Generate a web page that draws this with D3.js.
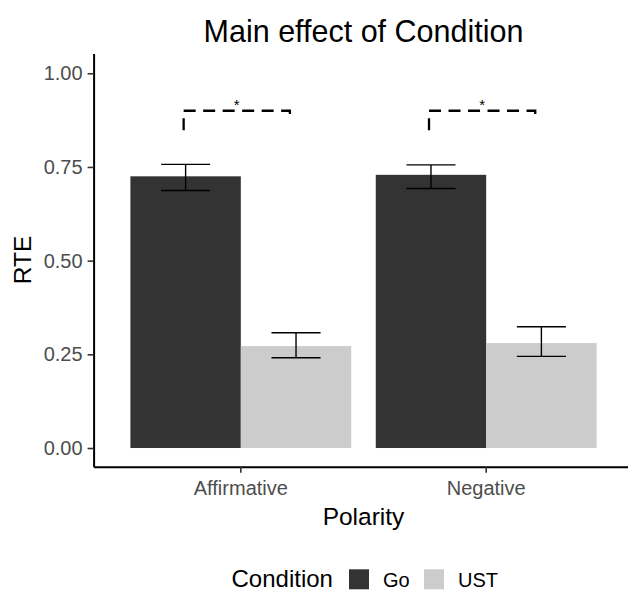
<!DOCTYPE html>
<html lang="en">
<meta charset="utf-8">
<head>
    <script src="https://d3js.org/d3.v7.min.js"></script>
    <style>
        body { margin: 0; background: #fff; }
        text { font-family: "Liberation Sans", Arial, sans-serif; }
    </style>
</head>
<body>
<div id="chart"></div>
<script>
// Data
const polarity = ["Affirmative", "Negative"];
const conditions = ["Go", "UST"];
const rteGo = [0.725, 0.729];
const rteUst = [0.272, 0.280];
const lowGo = [0.687, 0.6925];
const highGo = [0.757, 0.7555];
const lowUst = [0.241, 0.2445];
const highUst = [0.3075, 0.3235];
const yTicks = [0, 0.25, 0.5, 0.75, 1];
// significance brackets (x offsets in category units, y in RTE units)
const sigLabel = ["*", "*"];
const sigXmin = [-0.233, -0.233];
const sigXmax = [0.2, 0.2];
const sigY = [0.9, 0.9];
const sigTipLeft = [0.848, 0.848];
const sigTipRight = [0.875, 0.875];

const colors = { Go: "#333333", UST: "#cccccc" };

const width = 628, height = 597;

// flat rows for the bars
const rows = [];
polarity.forEach((p, i) => {
    rows.push({ pol: p, cond: "Go", v: rteGo[i], lo: lowGo[i], hi: highGo[i] });
    rows.push({ pol: p, cond: "UST", v: rteUst[i], lo: lowUst[i], hi: highUst[i] });
});

const svg = d3.select("#chart")
    .append("svg")
    .attr("width", width)
    .attr("height", height);

// Scales
const x = d3.scaleBand()
    .domain(polarity)
    .range([93.6, 633.4])
    .paddingInner(0.1)
    .paddingOuter(0.15);

const xInner = d3.scaleBand()
    .domain(conditions)
    .range([0, x.bandwidth()]);

const y = d3.scaleLinear()
    .domain([-0.05, 1.053])
    .range([466.75, 53.4]);

// Bars
svg.append("g")
    .selectAll("rect")
    .data(rows)
    .join("rect")
    .attr("x", d => x(d.pol) + xInner(d.cond))
    .attr("width", xInner.bandwidth())
    .attr("y", d => y(d.v))
    .attr("height", d => y(0) - y(d.v))
    .attr("fill", d => colors[d.cond]);

// Error bars (cap width 0.2 units)
const capW = 0.2 * x.step();
const eb = svg.append("g")
    .attr("stroke", "#000")
    .attr("stroke-width", 1.4)
    .selectAll("g")
    .data(rows)
    .join("g")
    .attr("transform", d => `translate(${x(d.pol) + xInner(d.cond) + xInner.bandwidth() / 2},0)`);
eb.append("line")
    .attr("y1", d => y(d.lo)).attr("y2", d => y(d.hi));
eb.append("line")
    .attr("x1", -capW / 2).attr("x2", capW / 2)
    .attr("y1", d => y(d.hi)).attr("y2", d => y(d.hi));
eb.append("line")
    .attr("x1", -capW / 2).attr("x2", capW / 2)
    .attr("y1", d => y(d.lo)).attr("y2", d => y(d.lo));

// Significance brackets
polarity.forEach((p, i) => {
    const cx = x(p) + x.bandwidth() / 2;
    const x0 = cx + sigXmin[i] * x.step();
    const x1 = cx + sigXmax[i] * x.step();
    const path = d3.path();
    path.moveTo(x0, y(sigTipLeft[i]));
    path.lineTo(x0, y(sigY[i]));
    path.lineTo(x1, y(sigY[i]));
    path.lineTo(x1, y(sigTipRight[i]));
    svg.append("path")
        .attr("d", path.toString())
        .attr("fill", "none")
        .attr("stroke", "#000")
        .attr("stroke-width", 2.3)
        .attr("stroke-dasharray", "12,7.5");
    svg.append("text")
        .attr("x", (x0 + x1) / 2)
        .attr("y", y(sigY[i]) - 1)
        .attr("text-anchor", "middle")
        .attr("font-size", 15)
        .attr("fill", "#000")
        .text(sigLabel[i]);
});

// Axes
const yAxis = svg.append("g")
    .attr("transform", "translate(93.6,0)")
    .call(d3.axisLeft(y).tickValues(yTicks).tickFormat(d3.format(".2f"))
        .tickSize(6).tickSizeOuter(0).tickPadding(5));
const xAxis = svg.append("g")
    .attr("transform", "translate(0,466.75)")
    .call(d3.axisBottom(x).tickSize(6).tickSizeOuter(0).tickPadding(8));

[xAxis, yAxis].forEach(a => {
    a.select(".domain").attr("stroke", "#000").attr("stroke-width", 2);
    a.selectAll(".tick line").attr("stroke", "#333").attr("stroke-width", 1.6);
    a.selectAll(".tick text")
        .attr("fill", "#4d4d4d")
        .attr("font-size", 20)
        .attr("font-family", "Liberation Sans, Arial, sans-serif");
});

// Titles
svg.append("text")
    .attr("x", 363.5).attr("y", 42)
    .attr("text-anchor", "middle")
    .attr("font-size", 30.5)
    .text("Main effect of Condition");

svg.append("text")
    .attr("x", 363.5).attr("y", 525)
    .attr("text-anchor", "middle")
    .attr("font-size", 24.5)
    .text("Polarity");

svg.append("text")
    .attr("transform", "translate(31,260) rotate(-90)")
    .attr("text-anchor", "middle")
    .attr("font-size", 24.5)
    .text("RTE");

// Legend
const legend = svg.append("g");
legend.append("text")
    .attr("x", 231.5).attr("y", 587.3)
    .attr("font-size", 24)
    .text("Condition");
const legendX = [349, 424];
conditions.forEach((c, i) => {
    legend.append("rect")
        .attr("x", legendX[i]).attr("y", 569.3)
        .attr("width", 20).attr("height", 20)
        .attr("fill", colors[c]);
    legend.append("text")
        .attr("x", legendX[i] + 34).attr("y", 586.7)
        .attr("font-size", 20)
        .text(c);
});
</script>
</body>
</html>
